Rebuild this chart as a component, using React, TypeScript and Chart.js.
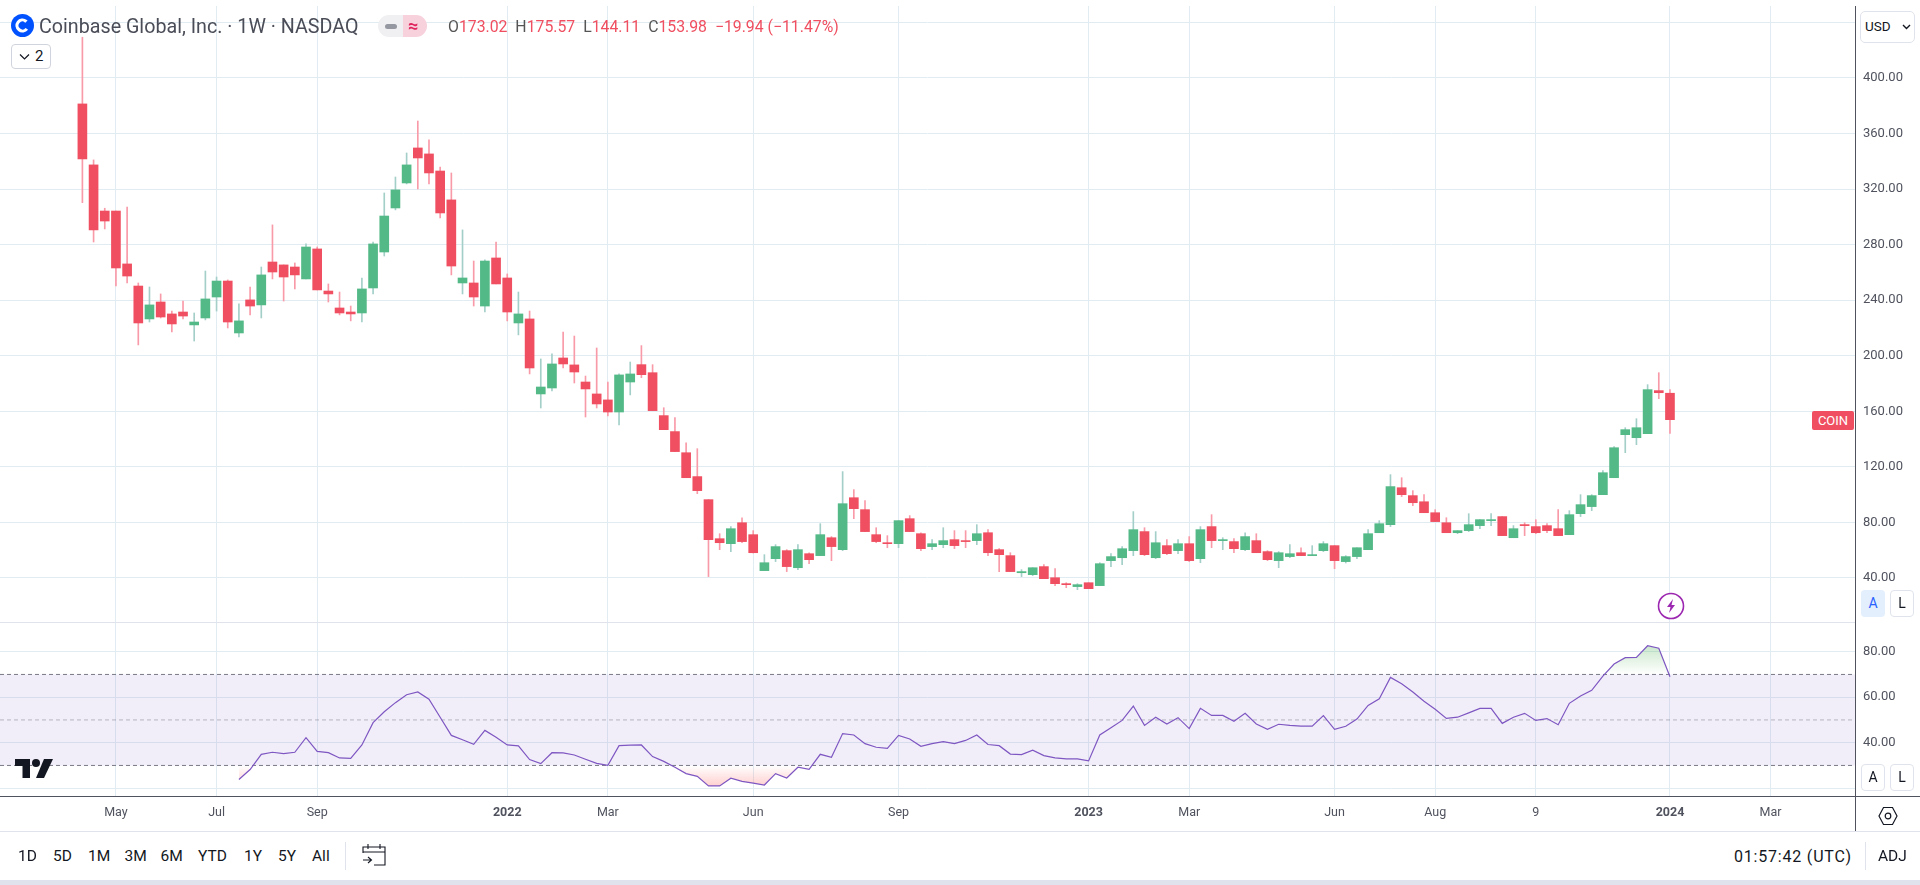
import React, { useEffect, useRef } from "react";
import { Chart, registerables } from "chart.js";

Chart.register(...registerables);

// ---- data (weekly candles, index 0 = week of 12 Apr 2021) ----
const opens = [381.3,337.4,304.2,304.2,266.1,250.2,226.5,238.7,230.1,231.5,
222.2,227.2,242.3,253.8,216.4,240.2,236.6,267.5,265.4,263.9,
255.3,276.9,246.6,234.4,231.5,230.8,248.8,274.7,306.4,324.4,
349.6,345.3,333.0,312.2,252.4,252.4,235.8,270.4,256.0,223.6,
226.5,172.5,176.8,198.4,193.4,181.1,172.5,168.2,159.5,181.1,
193.6,187.8,156.9,145.4,130.2,113.0,96.4,68.3,64.7,79.8,
71.2,45.3,53.9,59.7,47.4,57.5,56.1,69.0,60.4,97.8,
89.2,71.2,65.4,64.7,82.7,71.9,62.6,64.0,67.6,66.9,
66.9,72.6,60.4,56.1,43.8,42.4,48.2,40.2,35.9,33.8,
36.6,34.5,52.5,54.6,59.7,73.4,54.6,63.3,59.7,64.7,
53.9,77.0,66.9,66.2,60.4,66.9,59.0,52.5,55.4,58.2,
56.1,59.7,63.3,51.8,55.4,60.4,72.6,78.4,105.0,99.3,
94.9,87.0,79.8,72.6,74.1,77.7,81.3,84.2,69.0,78.4,
77.0,77.7,75.5,71.2,86.3,91.4,100.0,112.2,143.2,141.0,
143.9,174.9,173.02];
const closes = [341.7,290.6,297.0,263.2,257.4,223.6,236.6,227.9,222.9,228.6,
224.3,240.9,253.8,224.3,225.1,235.8,258.2,260.3,256.7,258.2,
278.3,247.4,244.5,230.8,230.1,248.1,280.5,300.6,319.4,337.4,
342.4,331.6,302.8,264.6,256.0,242.3,268.2,251.7,231.5,230.1,
191.2,177.5,194.1,194.1,188.3,176.1,165.3,159.5,186.2,186.9,
186.4,160.5,146.8,131.0,112.2,102.9,67.6,65.4,75.5,66.2,
58.2,51.0,62.6,48.2,60.4,53.2,71.2,62.6,93.5,89.9,
73.4,66.2,64.7,81.3,73.4,61.1,64.7,66.9,63.3,66.2,
71.9,58.2,56.8,44.6,44.6,47.4,39.5,35.9,35.2,35.2,
32.3,50.3,55.4,61.1,74.8,56.8,65.4,57.5,64.7,52.5,
74.8,66.9,67.6,61.1,69.8,58.2,53.2,58.2,57.5,56.1,
56.8,64.7,52.5,55.4,61.8,71.9,79.1,105.8,100.0,94.2,
87.0,80.6,72.6,74.1,78.4,82.0,82.0,70.5,75.5,77.7,
72.6,74.1,70.5,85.6,92.8,99.3,115.8,133.8,146.8,148.2,
175.6,173.4,153.98];
const highs = [429.3,341.0,306.2,304.2,307.1,252.4,249.5,244.5,232.2,239.4,
230.8,261.0,256.7,254.6,237.3,249.5,263.9,294.2,265.4,266.8,
280.5,278.3,251.7,245.9,235.8,256.0,281.9,317.2,328.7,346.0,
369.0,355.4,335.9,331.6,290.6,268.2,269.0,281.9,258.9,245.9,
232.2,197.7,201.3,217.1,214.2,185.4,205.6,181.1,186.9,195.5,
207.3,193.6,162.6,155.4,137.4,133.1,96.4,71.9,77.0,83.4,
74.1,56.8,64.0,60.4,64.0,58.2,79.1,69.8,116.6,103.6,
95.7,76.2,70.5,81.3,84.9,72.6,67.6,76.2,74.1,74.1,
78.4,74.8,61.1,58.2,46.0,47.4,49.6,46.7,36.6,35.9,
36.6,51.0,57.5,62.6,87.8,76.2,73.4,67.6,67.6,69.8,
77.0,85.6,69.0,68.3,72.6,71.9,59.7,59.0,64.0,61.8,
63.3,66.2,63.3,56.1,61.8,74.8,81.3,114.4,112.2,102.9,
100.0,89.2,83.4,74.1,86.3,82.0,86.3,84.2,77.7,79.8,
82.0,79.1,89.2,88.5,100.0,100.0,117.3,134.6,148.2,154.7,
179.2,187.8,175.57];
const lows = [310.2,281.9,291.3,250.2,252.4,207.8,224.3,227.2,217.1,226.5,
210.6,225.8,232.2,220.0,213.5,229.4,227.2,255.3,239.4,248.1,
255.3,247.4,238.7,229.4,225.1,224.3,244.5,271.8,305.0,323.7,
320.1,323.7,299.2,258.2,244.5,235.8,231.5,251.7,225.1,215.0,
186.9,162.4,174.6,191.2,180.4,155.9,162.4,156.6,150.2,171.8,
184.2,160.5,146.8,131.0,112.2,100.7,41.0,60.4,59.0,65.4,
58.0,45.3,51.8,44.6,46.0,50.3,56.1,52.5,59.7,82.7,
73.4,65.4,61.8,61.8,73.4,59.7,60.4,61.8,61.1,61.8,
64.0,56.1,44.6,44.6,41.0,41.7,39.5,34.5,33.0,31.6,
32.3,34.5,48.2,49.6,56.1,56.1,53.9,56.8,57.5,51.8,
51.0,61.8,60.4,58.2,59.7,58.2,52.5,47.4,54.6,56.1,
56.1,59.0,46.7,50.8,53.9,60.4,72.6,77.0,98.6,92.1,
87.0,80.6,72.6,71.9,73.4,75.5,77.7,70.5,69.0,70.5,
71.9,72.6,70.5,71.2,84.2,88.5,100.0,112.2,130.2,136.0,
143.9,169.1,144.11];
const rsiFirstIndex = 14;
const rsiValues = [23.8,28.2,34.9,35.8,35.2,35.8,42.2,36.2,35.6,33.3,33.1,39.0,48.8,53.6,57.6,61.1,62.3,59.1,51.2,43.2,
41.3,39.3,45.4,42.4,39.0,38.6,32.6,30.8,35.6,35.5,34.6,32.7,30.9,30.1,38.7,38.9,39.0,33.9,31.8,29.2,
26.4,25.2,21.0,21.0,24.4,23.0,22.2,21.4,26.4,24.5,29.2,28.3,34.9,33.6,44.0,43.4,39.6,38.0,37.5,43.2,
41.6,38.4,39.6,40.5,39.6,41.0,43.4,39.2,38.7,35.0,34.8,36.7,34.3,33.3,32.9,32.9,32.0,43.4,46.6,49.8,
56.1,47.6,51.2,48.2,51.0,46.2,55.1,52.0,52.0,49.4,52.9,48.2,45.9,48.1,47.6,47.3,47.3,51.9,45.9,47.2,
50.4,56.4,59.3,68.7,65.9,62.3,58.2,54.7,50.7,51.2,53.1,55.1,55.1,48.5,51.2,52.9,49.8,50.6,47.9,57.3,
60.5,63.0,69.3,74.6,77.4,77.5,82.6,81.5,69.0];
const timeTicks = [3,12,21,38,47,60,73,90,99,112,121,130,142,151];
const timeLabels = ["May","Jul","Sep","2022","Mar","Jun","Sep","2023","Mar","Jun","Aug","9","2024","Mar"];
const yearTicks = [38,90,142];
const priceTicks = [40,80,120,160,200,240,280,320,360,400,440];
const hiddenPriceTick = 440;
const rsiTicks = [20,40,60,80];
const hiddenRsiTick = 20;
const rsiLevels = [30,50,70];
const ranges = ["1D","5D","1M","3M","6M","YTD","1Y","5Y","All"];
const rangeLefts = [18,53,88,124.5,160.5,198,244,278,312];

// ---- styling ----
const FONT = "Roboto, sans-serif";
const GRID = "#e1ecf2";
const UP = "#53b987";
const DOWN = "#ef4f60";
const UP_WICK = "#a3cfc8";
const DOWN_WICK = "#f99aa8";
const AXIS_TXT = "#50535e";
const X_MIN = -7.37;
const X_MAX = 158.55;

const setTicks = (values: number[]) => (scale: any) => {
  scale.ticks = values.map((value) => ({ value }));
};
const fitX = (height: number) => (s: any) => {
  s.height = height;
  s.paddingLeft = 0;
  s.paddingRight = 0;
};
const fitY = (s: any) => {
  s.width = 65;
  s.paddingTop = 0;
  s.paddingBottom = 0;
};

const T = ({ l, t, s, c, w, ls, children }: any) => (
  <div style={{ position: "absolute", left: l, top: t, fontSize: s, color: c, fontWeight: w, letterSpacing: ls, fontFamily: FONT, whiteSpace: "nowrap", lineHeight: "normal" }}>{children}</div>
);
const Box = ({ l, t, w, h, st }: any) => (
  <div style={{ position: "absolute", left: l, top: t, width: w, height: h, boxSizing: "border-box", ...st }} />
);

export default function App() {
  const priceRef = useRef<HTMLCanvasElement>(null);
  const rsiRef = useRef<HTMLCanvasElement>(null);

  useEffect(() => {
    const idx = opens.map((_, i) => i);
    const isUp = (i: number) => closes[i] >= opens[i];

    const price = new Chart(priceRef.current as any, {
      type: "bar",
      data: {
        datasets: [
          {
            label: "body",
            data: idx.map((i) => ({ x: i, y: [opens[i], closes[i]] })) as any,
            backgroundColor: idx.map((i) => (isUp(i) ? UP : DOWN)),
            barThickness: 9,
            minBarLength: 1,
            grouped: false,
          },
          {
            label: "wick",
            data: idx.map((i) => ({ x: i, y: [lows[i], highs[i]] })) as any,
            backgroundColor: idx.map((i) => (isUp(i) ? UP_WICK : DOWN_WICK)),
            barThickness: 1,
            grouped: false,
          },
        ],
      },
      options: {
        responsive: false,
        animation: false,
        devicePixelRatio: 1,
        layout: { padding: 0, autoPadding: false },
        plugins: { legend: { display: false }, tooltip: { enabled: false } },
        events: [],
        scales: {
          x: {
            type: "linear",
            offset: false,
            min: X_MIN,
            max: X_MAX,
            afterBuildTicks: setTicks(timeTicks),
            afterFit: fitX(0),
            ticks: { display: false },
            border: { display: false },
            grid: { color: GRID, drawTicks: false, offset: false },
          },
          y: {
            position: "right",
            min: 8.32,
            max: 451.8,
            afterBuildTicks: setTicks(priceTicks),
            afterFit: fitY,
            ticks: {
              padding: 8,
              color: AXIS_TXT,
              font: { family: FONT, size: 13 },
              callback: (v: any) => (v === hiddenPriceTick ? "" : Number(v).toFixed(2)),
            },
            border: { display: false },
            grid: { color: GRID, drawTicks: false },
          },
        },
      } as any,
    });

    const rsiPoints = rsiValues.map((v, k) => ({ x: k + rsiFirstIndex, y: v }));
    const level = (v: number) => [{ x: X_MIN, y: v }, { x: X_MAX, y: v }];
    const hiddenLine = { borderWidth: 0, pointRadius: 0, borderColor: "rgba(0,0,0,0)", backgroundColor: "rgba(0,0,0,0)" };

    const rsi = new Chart(rsiRef.current as any, {
      type: "line",
      data: {
        datasets: [
          { label: "RSI", data: rsiPoints, borderColor: "#7e57c2", borderWidth: 1.2, pointRadius: 0, tension: 0, fill: false },
          { label: "over", data: rsiPoints, ...hiddenLine, fill: { target: { value: rsiLevels[2] }, above: "rgba(76,175,80,0.3)", below: "rgba(0,0,0,0)" } },
          { label: "under", data: rsiPoints, ...hiddenLine, fill: { target: { value: rsiLevels[0] }, above: "rgba(0,0,0,0)", below: "rgba(255,82,82,0.3)" } },
          { label: "70", data: level(rsiLevels[2]), borderColor: "#787b86", borderWidth: 1, borderDash: [4, 3], pointRadius: 0, fill: false },
          { label: "50", data: level(rsiLevels[1]), borderColor: "rgba(120,123,134,0.5)", borderWidth: 1, borderDash: [4, 3], pointRadius: 0, fill: false },
          { label: "30", data: level(rsiLevels[0]), borderColor: "#787b86", borderWidth: 1, borderDash: [4, 3], pointRadius: 0, fill: false },
          { label: "band", data: level(rsiLevels[2]), ...hiddenLine, fill: { target: { value: rsiLevels[0] }, above: "rgba(126,87,194,0.1)", below: "rgba(126,87,194,0.1)" } },
        ],
      },
      options: {
        responsive: false,
        animation: false,
        devicePixelRatio: 1,
        layout: { padding: 0, autoPadding: false },
        plugins: { legend: { display: false }, tooltip: { enabled: false } },
        events: [],
        scales: {
          x: {
            type: "linear",
            position: "bottom",
            min: X_MIN,
            max: X_MAX,
            afterBuildTicks: setTicks(timeTicks),
            afterFit: fitX(34.5),
            ticks: {
              autoSkip: false,
              maxRotation: 0,
              padding: 9,
              color: AXIS_TXT,
              font: (c: any) => ({ family: FONT, size: 12.5, weight: yearTicks.includes(c.tick?.value) ? "bold" : "normal" }),
              callback: (v: any) => timeLabels[timeTicks.indexOf(v)] ?? "",
            },
            border: { display: false },
            grid: { color: GRID, drawTicks: false },
          },
          y: {
            position: "right",
            min: 16.35,
            max: 93.05,
            afterBuildTicks: setTicks(rsiTicks),
            afterFit: fitY,
            ticks: {
              padding: 8,
              color: AXIS_TXT,
              font: { family: FONT, size: 13 },
              callback: (v: any) => (v === hiddenRsiTick ? "" : Number(v).toFixed(2)),
            },
            border: { display: false },
            grid: { color: GRID, drawTicks: false },
          },
        },
      } as any,
    });

    // Gradient fills need the finished scale.
    const y = rsi.scales.y;
    const g = (rsi as any).ctx as CanvasRenderingContext2D;
    const green = g.createLinearGradient(0, y.getPixelForValue(83), 0, y.getPixelForValue(rsiLevels[2]));
    green.addColorStop(0, "rgba(76,175,80,0.3)");
    green.addColorStop(1, "rgba(76,175,80,0)");
    const red = g.createLinearGradient(0, y.getPixelForValue(rsiLevels[0]), 0, y.getPixelForValue(20));
    red.addColorStop(0, "rgba(255,82,82,0)");
    red.addColorStop(1, "rgba(255,82,82,0.3)");
    (rsi.data.datasets[1] as any).fill.above = green;
    (rsi.data.datasets[2] as any).fill.below = red;
    rsi.update("none");

    return () => {
      price.destroy();
      rsi.destroy();
    };
  }, []);

  return (
    <div style={{ position: "absolute", left: 0, top: 0, width: 1920, height: 885, overflow: "hidden", background: "#fff" }}>
      <canvas ref={priceRef} width={1920} height={616} style={{ position: "absolute", left: 0, top: 6, display: "block" }} />
      <canvas ref={rsiRef} width={1920} height={209} style={{ position: "absolute", left: 0, top: 622, display: "block" }} />

      {/* frame lines */}
      <Box l={0} t={622} w={1855} h={1} st={{ background: "#e0e3eb" }} />
      <Box l={0} t={796} w={1920} h={1} st={{ background: "#50535e" }} />
      <Box l={1855} t={6} w={1} h={825} st={{ background: "#50535e" }} />
      <Box l={0} t={831} w={1920} h={1} st={{ background: "#e0e3eb" }} />
      <Box l={0} t={880} w={1920} h={5} st={{ background: "#e0e3eb" }} />

      {/* header */}
      <svg style={{ position: "absolute", left: 11, top: 14 }} width={23} height={23} viewBox="0 0 23 23">
        <circle cx={11.5} cy={11.5} r={11.5} fill="#0052ff" />
        <circle cx={11.5} cy={11.5} r={5.5} fill="none" stroke="#fff" strokeWidth={3.2} strokeDasharray="26 9" transform="rotate(38 11.5 11.5)" />
      </svg>
      <T l={39} t={15} s={19.7} c="#4a4d57">Coinbase Global, Inc. · 1W · NASDAQ</T>
      <Box l={378} t={15} w={25} h={22} st={{ background: "#f0f0f3", borderRadius: "11px 0 0 11px" }} />
      <Box l={403} t={15} w={24} h={22} st={{ background: "#f7d1dc", borderRadius: "0 11px 11px 0" }} />
      <Box l={385} t={24} w={12} h={5} st={{ background: "#9598a1", borderRadius: 2.5 }} />
      <T l={408} t={15} s={18} c="#e0245e" w={700}>≈</T>
      <div style={{ position: "absolute", left: 448, top: 17, fontSize: 15.8, fontFamily: FONT, whiteSpace: "nowrap", color: "#ef4f60" }}>
        <span style={{ color: "#555" }}>O</span>173.02 <span style={{ color: "#555", marginLeft: 4 }}>H</span>175.57 <span style={{ color: "#555", marginLeft: 4 }}>L</span>144.11 <span style={{ color: "#555", marginLeft: 4 }}>C</span>153.98 <span style={{ marginLeft: 4 }}>−19.94 (−11.47%)</span>
      </div>
      <Box l={11} t={44} w={40} h={25} st={{ border: "1px solid #d1d4dc", borderRadius: 4, background: "#fff" }} />
      <svg style={{ position: "absolute", left: 19, top: 53 }} width={11} height={8} viewBox="0 0 11 8">
        <path d="M1 1.5 L5.5 6 L10 1.5" fill="none" stroke="#131722" strokeWidth={1.2} />
      </svg>
      <T l={35} t={47} s={15} c="#131722">2</T>

      {/* price axis controls */}
      <Box l={1860} t={11} w={55} h={32} st={{ border: "1px solid #e0e3eb", borderRadius: 5, background: "#fff" }} />
      <T l={1865} t={18} s={13.5} c="#131722">USD</T>
      <svg style={{ position: "absolute", left: 1902, top: 24 }} width={9} height={6} viewBox="0 0 9 6">
        <path d="M1 1 L4.5 4.5 L8 1" fill="none" stroke="#131722" strokeWidth={1.4} />
      </svg>
      <div style={{ position: "absolute", left: 1812, top: 411, width: 42, height: 19, background: "#ef4f60", borderRadius: 2, color: "#fff", fontFamily: FONT, fontSize: 13, lineHeight: "19px", textAlign: "center" }}>COIN</div>

      <div style={{ position: "absolute", left: 1861, top: 590, width: 24, height: 27, background: "#e3effd", borderRadius: 4, color: "#2962ff", fontFamily: FONT, fontSize: 14, lineHeight: "27px", textAlign: "center" }}>A</div>
      <div style={{ position: "absolute", left: 1890, top: 590, width: 24, height: 27, boxSizing: "border-box", border: "1px solid #e0e3eb", background: "#fff", borderRadius: 4, color: "#131722", fontFamily: FONT, fontSize: 14, lineHeight: "25px", textAlign: "center" }}>L</div>
      <div style={{ position: "absolute", left: 1861, top: 764, width: 24, height: 27, boxSizing: "border-box", border: "1px solid #e0e3eb", background: "#fff", borderRadius: 4, color: "#131722", fontFamily: FONT, fontSize: 14, lineHeight: "25px", textAlign: "center" }}>A</div>
      <div style={{ position: "absolute", left: 1890, top: 764, width: 24, height: 27, boxSizing: "border-box", border: "1px solid #e0e3eb", background: "#fff", borderRadius: 4, color: "#131722", fontFamily: FONT, fontSize: 14, lineHeight: "25px", textAlign: "center" }}>L</div>

      <svg style={{ position: "absolute", left: 1657, top: 592 }} width={28} height={28} viewBox="0 0 28 28">
        <circle cx={14} cy={14} r={12.5} fill="#fff" stroke="#9c27b0" strokeWidth={1.6} />
        <path d="M16 7 L10 15 L13.5 15 L12 21 L18 13 L14.5 13 Z" fill="#9c27b0" />
      </svg>

      {/* TradingView mark */}
      <svg style={{ position: "absolute", left: 15, top: 758 }} width={38} height={21} viewBox="0 0 38 21">
        <path d="M0 1 H15 V20 H7.5 V8 H0 Z" fill="#131722" />
        <circle cx={21} cy={5} r={4} fill="#131722" />
        <path d="M29 1 H38 L29 20 H21 Z" fill="#131722" />
      </svg>

      {/* hexagon settings */}
      <svg style={{ position: "absolute", left: 1878, top: 806 }} width={20} height={20} viewBox="0 0 20 20">
        <path d="M5.5 1.5 H14.5 L19 10 L14.5 18.5 H5.5 L1 10 Z" fill="none" stroke="#131722" strokeWidth={1.2} />
        <circle cx={10} cy={10} r={2.8} fill="none" stroke="#131722" strokeWidth={1.2} />
      </svg>

      {/* footer */}
      {ranges.map((r, i) => (
        <T key={r} l={rangeLefts[i]} t={847} s={15.5} c="#131722">{r}</T>
      ))}
      <Box l={345} t={842} w={1} h={28} st={{ background: "#e0e3eb" }} />
      <svg style={{ position: "absolute", left: 362, top: 843 }} width={24} height={24} viewBox="0 0 24 24">
        <path d="M1 10 V4 H23 V22 H12 M1 9 H23 M6 1 V6 M18 1 V6 M1 17 H9 M6 14 L9.5 17 L6 20" fill="none" stroke="#131722" strokeWidth={1.1} />
      </svg>
      <T l={1734} t={847} s={16} c="#131722" ls="0.8px">01:57:42 (UTC)</T>
      <Box l={1865} t={842} w={1} h={28} st={{ background: "#e0e3eb" }} />
      <T l={1878} t={847} s={15.5} c="#131722">ADJ</T>
    </div>
  );
}
